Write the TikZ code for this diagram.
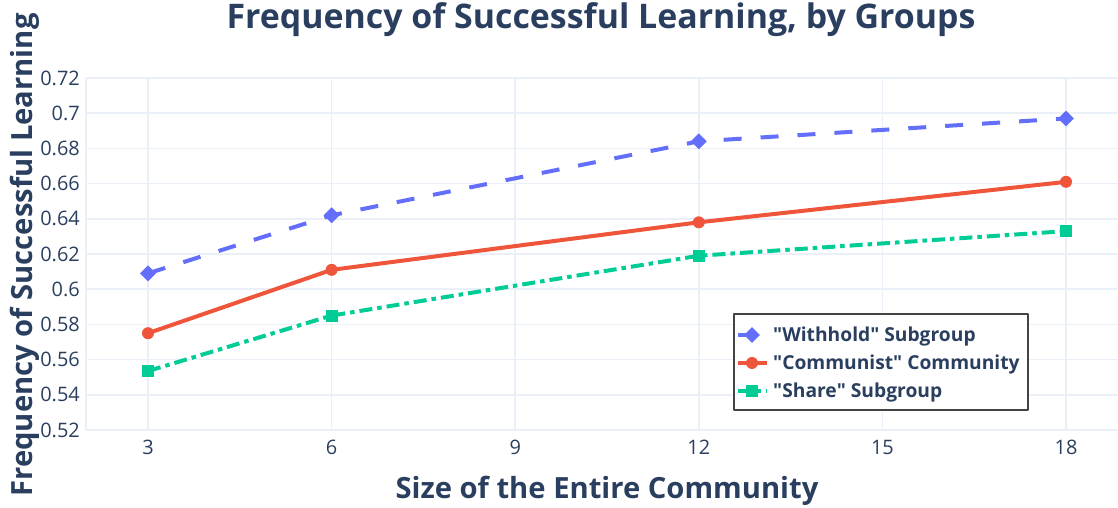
\documentclass[tikz,border=0pt]{standalone}
\usepackage{fontspec}
\setmainfont{Open Sans}
\usetikzlibrary{shapes.geometric, positioning}
\definecolor{withblue}{HTML}{636EFA}
\definecolor{commred}{HTML}{EF553B}
\definecolor{sharegreen}{HTML}{00CC96}
\definecolor{inkblue}{HTML}{2A3F5F}
\definecolor{gridgray}{HTML}{EBF0F8}
\definecolor{legendgray}{HTML}{444444}

\begin{document}
\begin{tikzpicture}[x=1bp, y=1bp, line join=round,
  gridline/.style={draw=gridgray, line width=1.5bp},
  ticklabel/.style={font=\fontsize{20}{23}\selectfont, text=inkblue, inner sep=0pt},
  axistitle/.style={font=\bfseries\fontsize{29.3}{33}\selectfont, text=inkblue, inner sep=0pt, anchor=base},
  withline/.style={draw=withblue, line width=4bp, dash pattern=on 18bp off 19bp},
  commline/.style={draw=commred, line width=4bp},
  shareline/.style={draw=sharegreen, line width=4bp, dash pattern=on 13bp off 5bp on 4.5bp off 5bp},
  withmark/.style={diamond, fill=withblue, inner sep=0pt, minimum width=16bp, minimum height=16bp},
  commmark/.style={circle, fill=commred, inner sep=0pt, minimum size=12bp},
  sharemark/.style={rectangle, fill=sharegreen, inner sep=0pt, minimum size=12bp},
  legendtext/.style={font=\bfseries\fontsize{19.3}{22}\selectfont, text=inkblue, anchor=base west, inner sep=0pt}
]
  \useasboundingbox (0,0) rectangle (1118,508);

  \node[axistitle, font=\bfseries\fontsize{34}{38}\selectfont] (title) at (601,479)
    {Frequency of Successful Learning, by Groups};
  \node[axistitle, rotate=90] (ytitle) at (32,253) {Frequency of Successful Learning};
  \node[axistitle] (xtitle) at (607,9) {Size of the Entire Community};

  % data area: x in community size, y in frequency
  \begin{scope}[x=61.2bp, y=1760bp, shift={(-35.6bp,-837.2bp)}]
    \foreach \xv in {3,6,9,12,15,18} {
      \draw[gridline] (\xv,0.52) -- (\xv,0.72);
      \node[ticklabel, anchor=base] (xtick\xv) at ([yshift=-25bp]\xv,0.52) {\xv};
    }
    \foreach \yv [count=\i] in {0.52,0.54,0.56,0.58,0.6,0.62,0.64,0.66,0.68,0.7,0.72} {
      \draw[gridline] (1.987,\yv) -- (18.9,\yv);
      \node[ticklabel, anchor=east] (ytick\i) at ([xshift=-6bp]1.987,\yv) {\yv};
    }
    \draw[gridline] (1.987,0.52) -- (1.987,0.72);

    \coordinate (w3) at (3,0.609);
    \coordinate (w6) at (6,0.642);
    \coordinate (w12) at (12,0.684);
    \coordinate (w18) at (18,0.697);
    \coordinate (c3) at (3,0.575);
    \coordinate (c6) at (6,0.611);
    \coordinate (c12) at (12,0.638);
    \coordinate (c18) at (18,0.661);
    \coordinate (s3) at (3,0.5535);
    \coordinate (s6) at (6,0.585);
    \coordinate (s12) at (12,0.619);
    \coordinate (s18) at (18,0.633);

    \draw[withline] (w3) -- (w6) -- (w12) -- (w18);
    \draw[commline] (c3) -- (c6) -- (c12) -- (c18);
    \draw[shareline] (s3) -- (s6) -- (s12) -- (s18);
    \foreach \p in {w3,w6,w12,w18} \node[withmark] (\p m) at (\p) {};
    \foreach \p in {c3,c6,c12,c18} \node[commmark] (\p m) at (\p) {};
    \foreach \p in {s3,s6,s12,s18} \node[sharemark] (\p m) at (\p) {};
  \end{scope}

  % legend
  \node[draw=legendgray, fill=white, line width=1.5bp, minimum width=294bp, minimum height=96bp,
    inner sep=0pt, anchor=south west] (legend) at (733,97) {};
  \coordinate (lw) at (752,173);
  \coordinate (lc) at (752,145);
  \coordinate (ls) at (752,117);
  \draw[withline] ([xshift=-14bp]lw) -- ([xshift=15bp]lw);
  \draw[commline] ([xshift=-14bp]lc) -- ([xshift=15bp]lc);
  \draw[shareline] ([xshift=-14bp]ls) -- ([xshift=15bp]ls);
  \node[withmark] (lwm) at (lw) {};
  \node[commmark] (lcm) at (lc) {};
  \node[sharemark] (lsm) at (ls) {};
  \node[legendtext] (lwt) at (773,166) {\textquotedbl Withhold\textquotedbl{} Subgroup};
  \node[legendtext] (lct) at (773,138) {\textquotedbl Communist\textquotedbl{} Community};
  \node[legendtext] (lst) at (773,110) {\textquotedbl Share\textquotedbl{} Subgroup};
\end{tikzpicture}
\end{document}
